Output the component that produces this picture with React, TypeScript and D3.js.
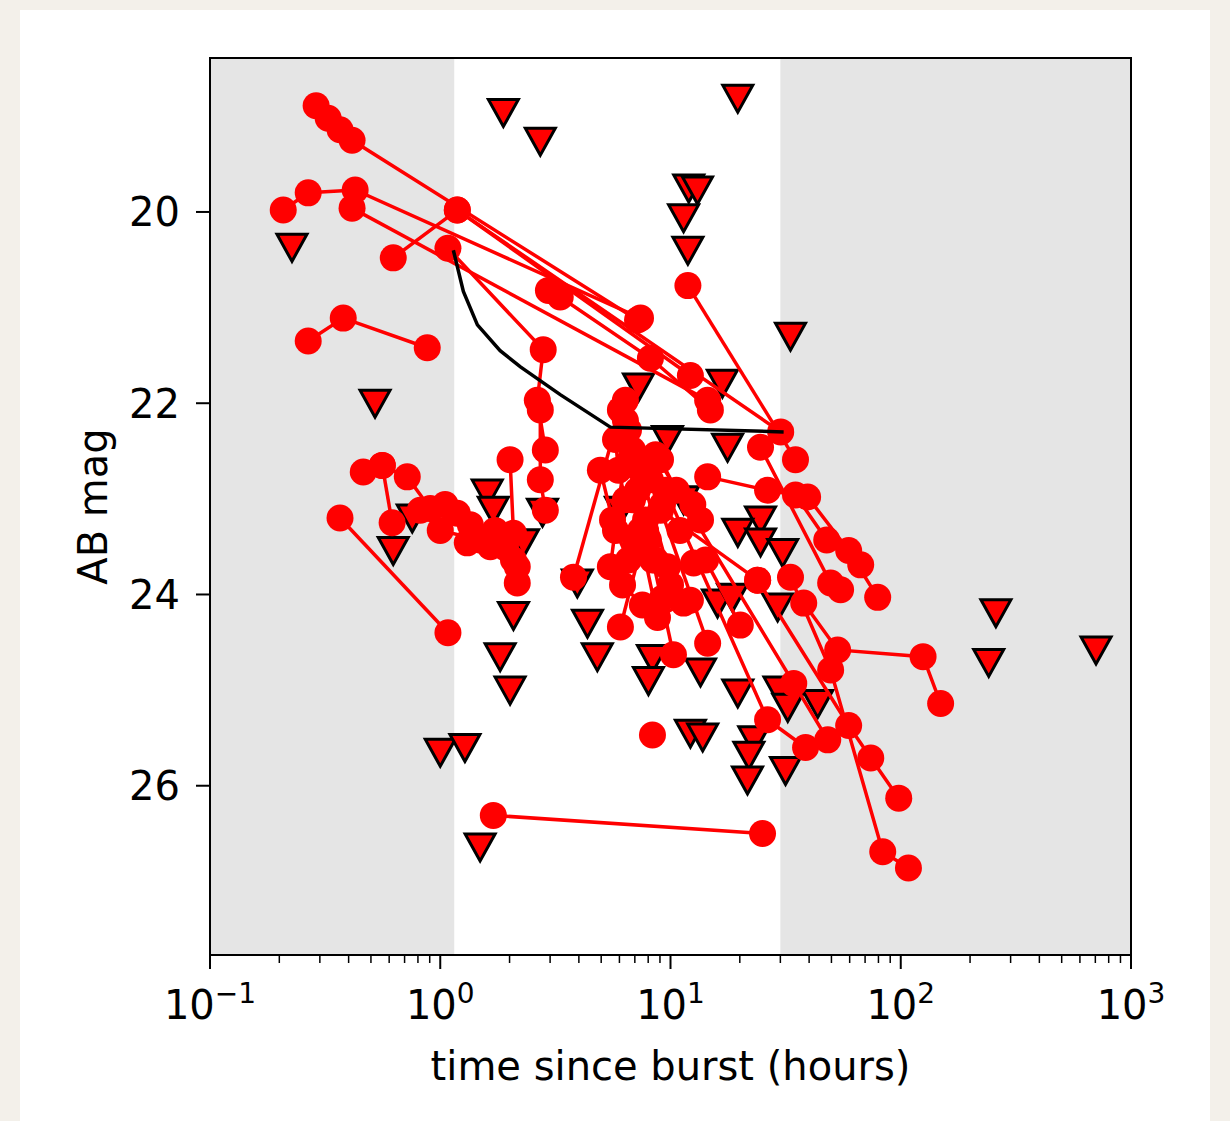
import React from 'react';
import * as d3 from 'd3';

// detections: one light curve per row (hours since burst, AB mag)
const detTimes: number[][] = [
  [0.289, 0.326, 0.367, 0.414, 7.19],
  [0.208, 0.267, 0.427, 7.41],
  [0.414, 14.5],
  [0.625, 1.186, 30.1],
  [1.186, 12.2],
  [1.08, 2.8, 2.64, 2.86],
  [0.267, 0.379, 0.878],
  [11.9, 34.9],
  [2.95, 3.32, 8.18, 14.9],
  [6.37, 6.37, 6.7, 7.19, 7.79, 8.61],
  [6.06, 3.79],
  [6.57, 5.48],
  [7.41, 9.7, 12.6],
  [6.84, 8.78, 11.4],
  [7.79, 6.06],
  [8.18, 14.5],
  [9.05, 23.9],
  [8.02, 10.3],
  [9.51, 26.4, 38.6],
  [8.61, 34.3, 48.2],
  [14.5, 26.4, 39.4, 59.4, 79.4],
  [24.6, 49.6, 54.8],
  [37.9, 53.2, 125, 149],
  [23.9, 59.4, 74.1, 98.0],
  [33.2, 49.6, 83.5, 108],
  [8.35],
  [1.7, 25.1],
  [0.367, 1.08],
  [0.463, 0.56, 0.719, 0.905, 1.186, 1.31, 1.65, 2.08, 2.16],
  [0.56, 0.618],
  [2.01, 2.08, 2.16],
  [2.72, 2.72, 2.86],
  [5.77, 5.94, 6.37, 5.77, 6.57],
  [6.84, 7.79, 9.23, 11.0, 13.5],
  [7.41, 8.35, 10.0, 12.2],
  [9.05, 10.6, 12.5],
  [6.19, 7.55, 9.23],
  [14.2, 20.1],
  [4.96, 5.6, 7.04],
  [1.05, 1.35, 1.73, 1.92],
  [0.819, 1.0, 1.49],
  [34.9, 47.7, 67.0],
];
const detMags: number[][] = [
  [18.89, 19.02, 19.14, 19.25, 21.13],
  [19.98, 19.8, 19.77, 21.11],
  [19.96, 21.97],
  [20.48, 19.98, 22.3],
  [19.98, 21.71],
  [20.38, 21.44, 21.97, 22.49],
  [21.35, 21.11, 21.42],
  [20.77, 22.59],
  [20.82, 20.89, 21.53, 22.07],
  [21.97, 22.18, 22.59, 22.91, 23.22, 23.64],
  [22.07, 23.82],
  [22.28, 23.71],
  [22.7, 23.71, 23.67],
  [23.01, 24.24, 24.09],
  [23.33, 24.34],
  [22.8, 24.51],
  [23.12, 23.85],
  [23.43, 24.63],
  [22.91, 25.31, 25.6],
  [22.54, 24.93, 25.52],
  [22.77, 22.91, 22.98, 23.54, 24.03],
  [22.46, 23.88, 23.95],
  [24.09, 24.58, 24.65, 25.14],
  [23.85, 25.37, 25.71, 26.13],
  [23.82, 24.79, 26.69, 26.86],
  [25.47],
  [26.31, 26.5],
  [23.2, 24.4],
  [22.72, 22.65, 22.77, 23.1, 23.15, 23.46, 23.5, 23.64, 23.88],
  [22.65, 23.25],
  [22.59, 23.36, 23.71],
  [22.07, 22.8, 23.12],
  [22.38, 22.7, 23.01, 23.33, 23.64],
  [22.49, 22.8, 23.06, 23.33, 23.22],
  [23.33, 23.64, 23.9, 24.06],
  [22.59, 22.91, 23.06],
  [23.9, 24.11, 24.04],
  [23.64, 24.32],
  [22.7, 23.22, 23.48],
  [23.06, 23.27, 23.33, 23.51],
  [23.12, 23.33, 23.43],
  [22.96, 23.43, 23.69],
];

// upper limits
const limTimes = [
  0.227, 1.88, 2.72, 19.6, 12.0, 13.1, 11.4, 11.9, 33.2, 0.521, 7.26, 16.8, 9.7, 17.7,
  1.6, 1.7, 0.756, 0.625, 2.78, 2.3, 6.06, 11.4, 24.6, 19.6, 24.6, 30.7, 2.08, 1.82,
  2.01, 3.94, 4.36, 4.81, 16.0, 18.6, 29.2, 8.35, 8.02, 13.5, 19.6, 29.6, 32.3, 43.6,
  12.2, 13.8, 23.0, 21.9, 21.6, 31.6, 1.0, 1.28, 1.49, 259, 241, 705,
];
const limMags = [
  20.37, 18.96, 19.26, 18.81, 19.75, 19.77, 20.06, 20.4, 21.3, 22.0, 21.83, 21.79, 22.38, 22.46,
  22.94, 23.12, 23.2, 23.54, 23.14, 23.46, 23.12, 23.01, 23.22, 23.35, 23.45, 23.56, 24.22, 24.65,
  25.0, 23.88, 24.3, 24.65, 24.09, 24.03, 24.13, 24.67, 24.9, 24.81, 25.03, 25.0, 25.18, 25.14,
  25.45, 25.49, 25.52, 25.68, 25.94, 25.84, 25.65, 25.6, 26.64, 24.19, 24.71, 24.58,
];

// black model curve
const modelTimes = [1.14, 1.26, 1.45, 1.82, 2.23, 3.32, 5.48, 31.0];
const modelMags = [20.4, 20.83, 21.18, 21.45, 21.62, 21.91, 22.25, 22.3];

const windowHours = [1.15, 30];
const yTickValues = [20, 22, 24, 26];
const xTickExponents = [-1, 0, 1, 2, 3];

const FONT = 'DejaVu Sans';

export default function App() {
  const width = 1230;
  const height = 1121;
  const left = 210;
  const right = 1131;
  const top = 58;
  const bottom = 955;

  const x = d3.scaleLog().domain([0.1, 1000]).range([left, right]);
  const y = d3.scaleLinear().domain([18.39, 27.77]).range([top, bottom]);

  const line = d3
    .line<[number, number]>()
    .x(d => x(d[0]))
    .y(d => y(d[1]));

  const minorTicks: number[] = [];
  for (let e = -1; e < 3; e++) {
    for (let k = 2; k < 10; k++) minorTicks.push(k * Math.pow(10, e));
  }

  const tri = 'M0,14L-15,-13L15,-13Z';

  return (
    <div style={{ position: 'absolute', left: 0, top: 0 }}>
      <svg width={width} height={height} style={{ display: 'block' }}>
        <rect x={0} y={0} width={width} height={height} fill="#f3f0ea" />
        <rect x={20} y={10} width={1190} height={height - 10} fill="#ffffff" />

        {/* axes background + window band */}
        <rect x={left} y={top} width={right - left} height={bottom - top} fill="#e5e5e5" />
        <rect
          x={x(windowHours[0])}
          y={top}
          width={x(windowHours[1]) - x(windowHours[0])}
          height={bottom - top}
          fill="#ffffff"
        />

        <clipPath id="plot">
          <rect x={left} y={top} width={right - left} height={bottom - top} />
        </clipPath>

        <g clipPath="url(#plot)">
          {limTimes.map((t, i) => (
            <path
              key={'l' + i}
              d={tri}
              transform={`translate(${x(t)},${y(limMags[i])})`}
              fill="#ff0000"
              stroke="#000"
              strokeWidth={3}
            />
          ))}
          {detTimes.map((ts, i) => {
            const pts = ts.map((t, j) => [t, detMags[i][j]] as [number, number]);
            return (
              <g key={'s' + i}>
                {pts.length > 1 && (
                  <path d={line(pts) || ''} fill="none" stroke="#ff0000" strokeWidth={3.5} />
                )}
                {pts.map((p, j) => (
                  <circle key={j} cx={x(p[0])} cy={y(p[1])} r={13.5} fill="#ff0000" />
                ))}
              </g>
            );
          })}
          <path
            d={line(modelTimes.map((t, i) => [t, modelMags[i]] as [number, number])) || ''}
            fill="none"
            stroke="#000"
            strokeWidth={3.5}
          />
        </g>

        {/* frame */}
        <rect
          x={left}
          y={top}
          width={right - left}
          height={bottom - top}
          fill="none"
          stroke="#000"
          strokeWidth={2}
        />

        {/* x ticks */}
        {xTickExponents.map(e => {
          const px = x(Math.pow(10, e));
          return (
            <g key={'x' + e}>
              <line x1={px} x2={px} y1={bottom} y2={bottom + 14} stroke="#000" strokeWidth={2} />
              <text
                x={px}
                y={1019}
                textAnchor="middle"
                fontFamily={FONT}
                fontSize={40}
                fill="#000"
              >
                10
                <tspan dy={-16} fontSize={28}>
                  {e < 0 ? '\u2212' + Math.abs(e) : String(e)}
                </tspan>
              </text>
            </g>
          );
        })}
        {minorTicks.map((v, i) => (
          <line
            key={'m' + i}
            x1={x(v)}
            x2={x(v)}
            y1={bottom}
            y2={bottom + 8}
            stroke="#000"
            strokeWidth={1.5}
          />
        ))}

        {/* y ticks */}
        {yTickValues.map(v => (
          <g key={'y' + v}>
            <line x1={left - 14} x2={left} y1={y(v)} y2={y(v)} stroke="#000" strokeWidth={2} />
            <text
              x={180}
              y={y(v)}
              dy="0.36em"
              textAnchor="end"
              fontFamily={FONT}
              fontSize={40}
              fill="#000"
            >
              {v}
            </text>
          </g>
        ))}

        <text
          x={(left + right) / 2}
          y={1080}
          textAnchor="middle"
          fontFamily={FONT}
          fontSize={40}
          fill="#000"
        >
          time since burst (hours)
        </text>
        <text
          transform={`translate(107,${(top + bottom) / 2}) rotate(-90)`}
          textAnchor="middle"
          fontFamily={FONT}
          fontSize={40}
          fill="#000"
        >
          AB mag
        </text>
      </svg>
    </div>
  );
}
